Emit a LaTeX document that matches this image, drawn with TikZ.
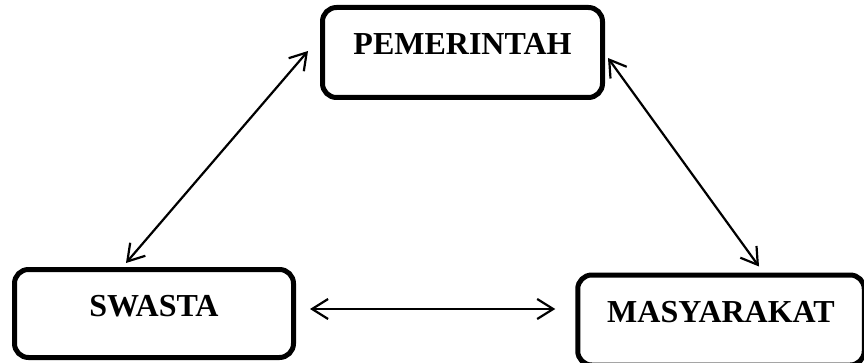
\documentclass[tikz,border=0pt]{standalone}
\usepackage{fontspec}
\setmainfont{Liberation Serif}
\usetikzlibrary{arrows.meta}
\begin{document}
\begin{tikzpicture}[x=1pt,y=1pt,
  actorbox/.style={draw, line width=5pt, rounded corners=14pt, inner sep=0pt,
    font=\fontsize{32}{36}\selectfont\bfseries, text height=25pt, text depth=20pt},
  link/.style={line width=2.2pt, {Straight Barb[length=16pt,width=20pt]}-{Straight Barb[length=16pt,width=20pt]}}]
\useasboundingbox (0,0) rectangle (864,362);
\fill[white] (0,0) rectangle (864,362);
\clip (0,0) rectangle (864,362);
\node[actorbox, minimum width=280pt, minimum height=90pt] (pem) at (462.5,309.5) {PEMERINTAH};
\node[actorbox, minimum width=279pt, minimum height=88pt] (swa) at (154,48.5) {SWASTA};
\node[actorbox, minimum width=286.5pt, minimum height=90pt] (mas) at (721,42) {MASYARAKAT};
\draw[link] ([shift={(-28pt,4pt)}]swa.north) -- ([shift={(-12pt,1.5pt)}]pem.west);
\draw[link] ([shift={(3pt,-5.5pt)}]pem.east) -- ([shift={(38pt,6pt)}]mas.north);
\draw[link] ([shift={(14pt,4.5pt)}]swa.east) -- ([shift={(-20pt,11pt)}]mas.west);
\end{tikzpicture}
\end{document}
